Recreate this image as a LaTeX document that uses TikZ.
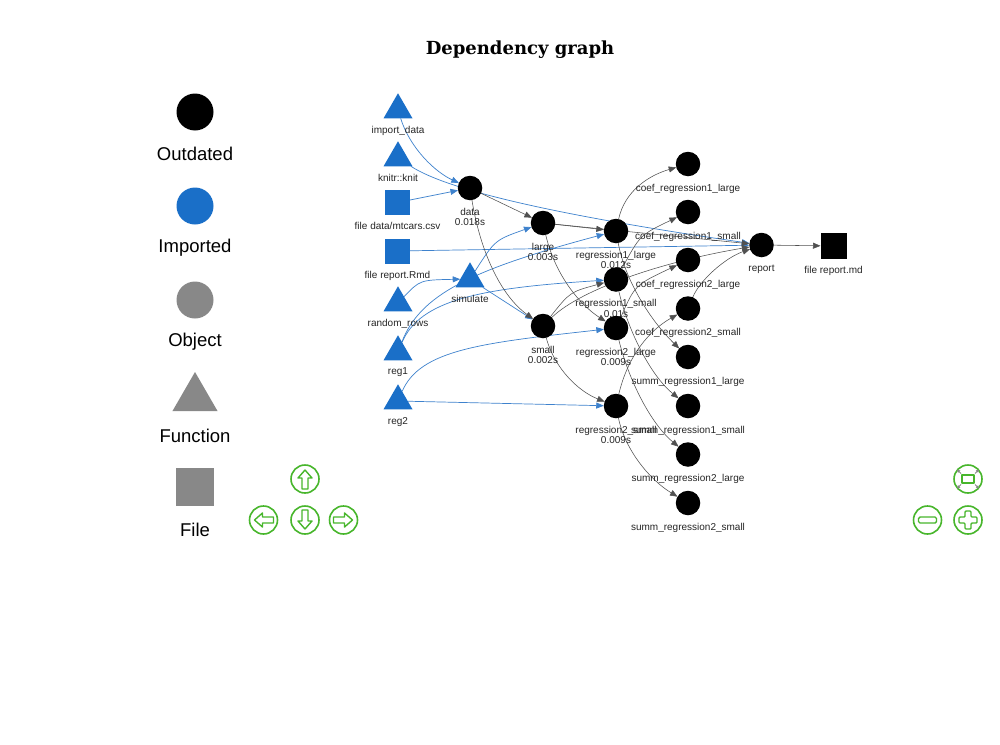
\documentclass[tikz,border=0pt]{standalone}
\usepackage{fontspec}
\setmainfont{Liberation Sans}
\newfontfamily\titlefont{DejaVu Serif}
\usetikzlibrary{shapes.geometric,arrows.meta,backgrounds}

\definecolor{impblue}{RGB}{26,111,200}
\definecolor{edgeblue}{RGB}{62,130,205}
\definecolor{edgegray}{RGB}{80,80,80}
\definecolor{objgray}{RGB}{136,136,136}
\definecolor{navgreen}{RGB}{72,182,44}
\definecolor{icongray}{RGB}{135,135,135}

\tikzset{
  % graph nodes
  outd/.style={circle, fill=black, minimum size=24.5pt, inner sep=0pt, outer sep=0pt},
  impfun/.style={regular polygon, regular polygon sides=3, fill=impblue, minimum size=33.5pt, inner sep=0pt, outer sep=0pt},
  impfile/.style={rectangle, fill=impblue, minimum size=25pt, inner sep=0pt, outer sep=0pt},
  outfile/.style={rectangle, fill=black, minimum size=26pt, inner sep=0pt, outer sep=0pt},
  lbl/.style={font=\fontsize{10}{10.5}\selectfont, inner sep=0pt, align=center, text=black!85},
  cap/.style={label={[lbl,label distance=7.5pt]below:{#1}}},
  % connectors
  tip/.style={-{Triangle[length=7.5pt,width=6pt]}},
  dep/.style={draw=edgegray, line width=0.55pt, tip},
  idep/.style={draw=edgeblue, line width=0.7pt, tip},
  % legend
  legtxt/.style={font=\fontsize{18.5}{20}\selectfont, inner sep=0pt},
  % navigation buttons
  navbtn/.style={circle, draw=navgreen, line width=1.6pt, minimum size=28pt, inner sep=0pt},
  navline/.style={draw=navgreen, line width=1.4pt, line join=round},
  navarrow/.pic={
    \draw[navline] (0,-9) -- (7,-1) -- (3,-1) -- (3,10) -- (-3,10) -- (-3,-1) -- (-7,-1) -- cycle;
  },
  fitarrow/.style={draw=icongray, line width=0.8pt, -{Triangle[length=3pt,width=3pt]}}
}

\begin{document}
\begin{tikzpicture}[x=1pt, y=-1pt]
\useasboundingbox (0,0) rectangle (1000,744);

% title
\node[font=\titlefont\bfseries\fontsize{18}{20}\selectfont, inner sep=0pt] (title) at (520,50) {Dependency graph};

% legend
\node[circle, fill=black, minimum size=37pt, inner sep=0pt] (lgout) at (195,112) {};
\node[legtxt] (lgoutt) at (195,154) {Outdated};
\node[circle, fill=impblue, minimum size=37pt, inner sep=0pt] (lgimp) at (195,206) {};
\node[legtxt] (lgimpt) at (195,248) {Imported};
\node[circle, fill=objgray, minimum size=37pt, inner sep=0pt] (lgobj) at (195,300) {};
\node[legtxt] (lgobjt) at (195,342) {Object};
\node[regular polygon, regular polygon sides=3, fill=objgray, minimum size=52pt, inner sep=0pt] (lgfun) at (195,398) {};
\node[legtxt] (lgfunt) at (195,436) {Function};
\node[rectangle, fill=objgray, minimum size=38pt, inner sep=0pt] (lgfile) at (195,487) {};
\node[legtxt] (lgfilet) at (195,530) {File};

% imports
\node[impfun, cap={import\_data}] (importdata) at (398,110) {};
\node[impfun, cap={knitr::knit}] (knit) at (398,158) {};
\node[impfile, cap={file data/mtcars.csv}] (mtcars) at (397.5,202.5) {};
\node[impfile, cap={file report.Rmd}] (rmd) at (397.5,251) {};
\node[impfun, cap={random\_rows}] (randomrows) at (398,303) {};
\node[impfun, cap={reg1}] (reg1) at (398,352) {};
\node[impfun, cap={reg2}] (reg2) at (398,401) {};
\node[impfun, cap={simulate}] (simulate) at (470,279) {};

% targets
\node[outd, cap={data\\0.018s}] (data) at (470,188) {};
\node[outd, cap={large\\0.003s}] (large) at (543,223) {};
\node[outd, cap={small\\0.002s}] (small) at (543,326) {};
\node[outd, cap={regression1\_large\\0.012s}] (rlone) at (616,231) {};
\node[outd, cap={regression1\_small\\0.01s}] (rsone) at (616,279.5) {};
\node[outd, cap={regression2\_large\\0.009s}] (rltwo) at (616,328) {};
\node[outd, cap={regression2\_small\\0.009s}] (rstwo) at (616,406) {};
\node[outd, cap={coef\_regression1\_large}] (clone) at (688,164) {};
\node[outd, cap={coef\_regression1\_small}] (csone) at (688,212) {};
\node[outd, cap={coef\_regression2\_large}] (cltwo) at (688,260) {};
\node[outd, cap={coef\_regression2\_small}] (cstwo) at (688,308.5) {};
\node[outd, cap={summ\_regression1\_large}] (slone) at (688,357) {};
\node[outd, cap={summ\_regression1\_small}] (ssone) at (688,406) {};
\node[outd, cap={summ\_regression2\_large}] (sltwo) at (688,454.5) {};
\node[outd, cap={summ\_regression2\_small}] (sstwo) at (688,503) {};
\node[outd, cap={report}] (report) at (761.5,245) {};
\node[outfile, cap={file report.md}] (reportmd) at (833.5,246) {};

% connectors, kept behind the nodes
\begin{scope}[on background layer]
  \fill[white] (0,0) rectangle (1000,744);
  % imported dependencies
  \draw[idep] (importdata) .. controls (410,148) and (435,172) .. (data);
  \draw[idep] (mtcars) -- (data);
  \draw[idep] (knit) .. controls (440,185) and (520,210) .. (report);
  \draw[idep] (rmd) -- (report);
  \draw[idep] (randomrows) .. controls (420,280) .. (simulate);
  \draw[idep] (simulate) .. controls (495,240) .. (large);
  \draw[idep] (simulate) .. controls (505,302) .. (small);
  \draw[idep] (reg1) .. controls (420,295) and (470,270) .. (rlone);
  \draw[idep] (reg1) .. controls (420,300) and (480,288) .. (rsone);
  \draw[idep] (reg2) .. controls (420,350) and (480,343) .. (rltwo);
  \draw[idep] (reg2) -- (rstwo);
  % target dependencies
  \draw[dep] (data) -- (large);
  \draw[dep] (data) .. controls (480,250) and (500,295) .. (small);
  \draw[dep] (large) -- (rlone);
  \draw[dep] (large) -- (report);
  \draw[dep] (large) .. controls (555,275) and (580,305) .. (rltwo);
  \draw[dep] (small) .. controls (570,292) .. (rsone);
  \draw[dep] (small) .. controls (580,290) and (660,262) .. (report);
  \draw[dep] (small) .. controls (555,370) and (580,392) .. (rstwo);
  \draw[dep] (rlone) .. controls (625,190) and (650,175) .. (clone);
  \draw[dep] (rsone) .. controls (640,235) .. (csone);
  \draw[dep] (rltwo) .. controls (635,285) .. (cltwo);
  \draw[dep] (rstwo) .. controls (628,355) and (650,330) .. (cstwo);
  \draw[dep] (rlone) .. controls (625,280) and (650,320) .. (slone);
  \draw[dep] (rsone) .. controls (628,330) and (650,375) .. (ssone);
  \draw[dep] (rltwo) .. controls (628,378) and (650,423) .. (sltwo);
  \draw[dep] (rstwo) .. controls (625,450) and (650,480) .. (sstwo);
  \draw[dep] (cstwo) .. controls (700,280) and (725,258) .. (report);
  \draw[dep] (report) -- (reportmd);
\end{scope}

% navigation buttons
\node[navbtn] (navup) at (305,479) {};
\node[navbtn] (navleft) at (263.5,520) {};
\node[navbtn] (navdown) at (305,520) {};
\node[navbtn] (navright) at (343.5,520) {};
\pic at (navup) {navarrow};
\pic[rotate=90] at (navleft) {navarrow};
\pic[rotate=180] at (navdown) {navarrow};
\pic[rotate=-90] at (navright) {navarrow};

\node[navbtn] (navfit) at (968,479) {};
\node[navbtn] (navout) at (927.5,520) {};
\node[navbtn] (navin) at (968,520) {};
\draw[navline] ([xshift=-6pt,yshift=-4pt]navfit.center) rectangle ([xshift=6pt,yshift=4pt]navfit.center);
\draw[fitarrow] ([xshift=-7pt,yshift=5.5pt]navfit.center) -- ([xshift=-11pt,yshift=9.5pt]navfit.center);
\draw[fitarrow] ([xshift=7pt,yshift=5.5pt]navfit.center) -- ([xshift=11pt,yshift=9.5pt]navfit.center);
\draw[fitarrow] ([xshift=-7pt,yshift=-5.5pt]navfit.center) -- ([xshift=-11pt,yshift=-9.5pt]navfit.center);
\draw[fitarrow] ([xshift=7pt,yshift=-5.5pt]navfit.center) -- ([xshift=11pt,yshift=-9.5pt]navfit.center);
\draw[navline, rounded corners=1.5pt] ([xshift=-9pt,yshift=-3pt]navout.center) rectangle ([xshift=9pt,yshift=3pt]navout.center);
\draw[navline, rounded corners=1pt] ([xshift=-3pt,yshift=9pt]navin.center) -- ([xshift=3pt,yshift=9pt]navin.center)
  -- ([xshift=3pt,yshift=3pt]navin.center) -- ([xshift=9pt,yshift=3pt]navin.center)
  -- ([xshift=9pt,yshift=-3pt]navin.center) -- ([xshift=3pt,yshift=-3pt]navin.center)
  -- ([xshift=3pt,yshift=-9pt]navin.center) -- ([xshift=-3pt,yshift=-9pt]navin.center)
  -- ([xshift=-3pt,yshift=-3pt]navin.center) -- ([xshift=-9pt,yshift=-3pt]navin.center)
  -- ([xshift=-9pt,yshift=3pt]navin.center) -- ([xshift=-3pt,yshift=3pt]navin.center) -- cycle;
\end{tikzpicture}
\end{document}
